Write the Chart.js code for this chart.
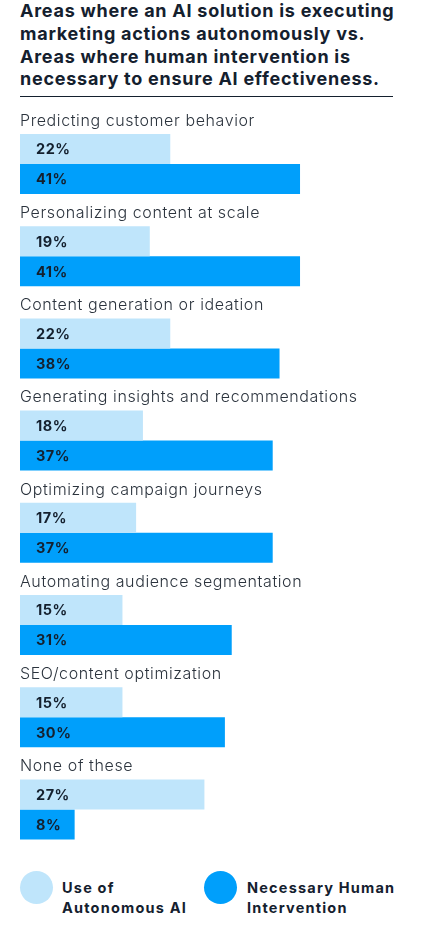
<!DOCTYPE html>
<html>
<head>
<meta charset="utf-8">
<script src="https://cdn.jsdelivr.net/npm/chart.js@4"></script>
<style>
  html, body { margin: 0; padding: 0; background: #fff; }
  body { width: 427px; height: 942px; position: relative; overflow: hidden; font-family: Inter, "Open Sans", sans-serif; color: #14202e; }
  #title { position: absolute; left: 20px; top: 0px; width: 407px; font-size: 18px; font-weight: 700; line-height: 22.8px; letter-spacing: 0.75px; white-space: nowrap; }
  #rule { position: absolute; left: 20px; top: 96px; width: 373px; height: 1px; background: #14202e; }
  #wrap { position: absolute; left: 0; top: 100px; width: 427px; height: 760px; }
  .dot { position: absolute; width: 33px; height: 33px; border-radius: 50%; }
  .legtxt { position: absolute; font-size: 14.5px; font-weight: 700; line-height: 19.5px; letter-spacing: 1.2px; white-space: nowrap; }
</style>
</head>
<body>
<div id="title">Areas where an AI solution is executing<br>marketing actions autonomously vs.<br>Areas where human intervention is<br>necessary to ensure AI effectiveness.</div>
<div id="rule"></div>
<div id="wrap"><canvas id="myChart"></canvas></div>
<div class="dot" style="left:20px; top:871px; background:#bfe5fb;"></div>
<div class="legtxt" style="left:62px; top:878px;">Use of<br>Autonomous AI</div>
<div class="dot" style="left:204px; top:871px; background:#009ffb;"></div>
<div class="legtxt" style="left:247px; top:878px;">Necessary Human<br>Intervention</div>

<script>
const categories = [
    'Predicting customer behavior',
    'Personalizing content at scale',
    'Content generation or ideation',
    'Generating insights and recommendations',
    'Optimizing campaign journeys',
    'Automating audience segmentation',
    'SEO/content optimization',
    'None of these'
];
const autonomousAI = [22, 19, 22, 18, 17, 15, 15, 27];
const humanIntervention = [41, 41, 38, 37, 37, 31, 30, 8];
const seriesNames = ['Use of Autonomous AI', 'Necessary Human Intervention'];

// category label above each pair of bars, value label inside each bar
const barText = {
    id: 'barText',
    afterDatasetsDraw(chart) {
        const ctx = chart.ctx;
        const y = chart.scales.y;
        ctx.save();
        ctx.textBaseline = 'middle';
        ctx.textAlign = 'left';
        ctx.fillStyle = '#2b333d';
        ctx.font = '300 16px Inter, "Open Sans", sans-serif';
        ctx.letterSpacing = '0.6px';
        categories.forEach(function(c, i) {
            ctx.fillText(c, 20, y.getPixelForValue(i) - 43);
        });
        ctx.fillStyle = '#14202e';
        ctx.font = '700 14.5px Inter, "Open Sans", sans-serif';
        ctx.letterSpacing = '0.5px';
        chart.data.datasets.forEach(function(ds, d) {
            chart.getDatasetMeta(d).data.forEach(function(bar, i) {
                ctx.fillText(ds.data[i] + '%', 36, bar.y + 1);
            });
        });
        ctx.restore();
    }
};

window.onload = function() {
    const ctx = document.getElementById('myChart').getContext('2d');
    new Chart(ctx, {
        type: 'bar',
        data: {
            labels: categories,
            datasets: [
                { label: seriesNames[0], data: autonomousAI, backgroundColor: '#bfe5fb' },
                { label: seriesNames[1], data: humanIntervention, backgroundColor: '#009ffb' }
            ]
        },
        options: {
            indexAxis: 'y',
            responsive: true,
            maintainAspectRatio: false,
            animation: false,
            categoryPercentage: 0.651,
            barPercentage: 1,
            layout: { padding: { left: 20, right: 65.5, top: 17.9, bottom: 4.5 } },
            plugins: { legend: { display: false }, tooltip: { enabled: false } },
            scales: {
                x: { display: false, min: 0, max: 50 },
                y: { display: false }
            }
        },
        plugins: [barText]
    });
};
</script>
</body>
</html>
